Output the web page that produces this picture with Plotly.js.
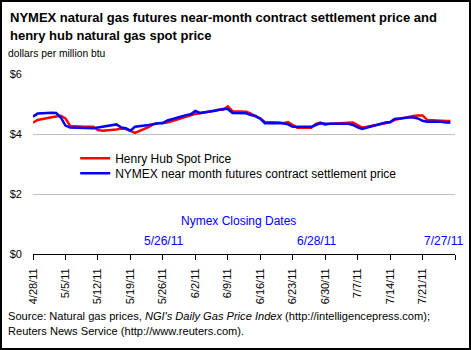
<!DOCTYPE html>
<html>
<head>
<meta charset="utf-8">
<script src="https://cdn.plot.ly/plotly-3.0.1.min.js"></script>
<style>
  html, body { margin: 0; padding: 0; background: #fff; }
  #wrap { position: relative; width: 471px; height: 350px; }
  #chart { width: 471px; height: 350px; }
  #frame { position: absolute; left: 0; top: 0; width: 471px; height: 350px; box-sizing: border-box; border: 2px solid #000; pointer-events: none; }
</style>
</head>
<body>
<div id="wrap"><div id="chart"></div><div id="frame"></div></div>
<script>
// ---- data ----
const dates = [
  '2011-04-28','2011-04-29',
  '2011-05-02','2011-05-03','2011-05-04','2011-05-05','2011-05-06',
  '2011-05-09','2011-05-10','2011-05-11','2011-05-12','2011-05-13',
  '2011-05-16','2011-05-17','2011-05-18','2011-05-19','2011-05-20',
  '2011-05-23','2011-05-24','2011-05-25','2011-05-26','2011-05-27',
  '2011-05-31','2011-06-01','2011-06-02','2011-06-03',
  '2011-06-06','2011-06-07','2011-06-08','2011-06-09','2011-06-10',
  '2011-06-13','2011-06-14','2011-06-15','2011-06-16','2011-06-17',
  '2011-06-20','2011-06-21','2011-06-22','2011-06-23','2011-06-24',
  '2011-06-27','2011-06-28','2011-06-29','2011-06-30','2011-07-01',
  '2011-07-05','2011-07-06','2011-07-07','2011-07-08',
  '2011-07-11','2011-07-12','2011-07-13','2011-07-14','2011-07-15',
  '2011-07-18','2011-07-19','2011-07-20','2011-07-21','2011-07-22',
  '2011-07-25','2011-07-26','2011-07-27'
];
const henryHub = [
  4.38, 4.47,
  4.56, 4.59, 4.61, 4.52, 4.27,
  4.24, 4.24, 4.24, 4.13, 4.11,
  4.15, 4.18, 4.17, 4.10, 4.04,
  4.24, 4.33, 4.36, 4.36, 4.38,
  4.57, 4.63, 4.67, 4.69,
  4.78, 4.81, 4.81, 4.92, 4.76,
  4.74, 4.68, 4.58, 4.52, 4.40,
  4.38, 4.36, 4.40, 4.30, 4.21,
  4.21, 4.34, 4.38, 4.31, 4.34,
  4.38, 4.38, 4.30, 4.21,
  4.30, 4.33, 4.36, 4.39, 4.47,
  4.58, 4.60, 4.62, 4.62, 4.47,
  4.43, 4.43, 4.43
];
const nymex = [
  4.58, 4.68,
  4.71, 4.70, 4.55, 4.28, 4.22,
  4.19, 4.19, 4.19, 4.22, 4.24,
  4.32, 4.22, 4.19, 4.11, 4.24,
  4.30, 4.33, 4.36, 4.36, 4.45,
  4.63, 4.66, 4.77, 4.70,
  4.77, 4.80, 4.83, 4.83, 4.70,
  4.69, 4.63, 4.60, 4.51, 4.36,
  4.36, 4.36, 4.32, 4.24, 4.24,
  4.24, 4.30, 4.36, 4.34, 4.34,
  4.34, 4.30, 4.22, 4.17,
  4.30, 4.36, 4.38, 4.40, 4.50,
  4.55, 4.55, 4.52, 4.44, 4.41,
  4.41, 4.38, 4.38
];
const tickDates = ['2011-04-28','2011-05-05','2011-05-12','2011-05-19','2011-05-26','2011-06-02','2011-06-09',
  '2011-06-16','2011-06-23','2011-06-30','2011-07-07','2011-07-14','2011-07-21','2011-07-28'];
const tickLabels = ['4/28/11','5/5/11','5/12/11','5/19/11','5/26/11','6/2/11','6/9/11',
  '6/16/11','6/23/11','6/30/11','7/7/11','7/14/11','7/21/11',''];
const yTickVals = [0, 2, 4, 6];
const yTickLabels = ['$0', '$2', '$4', '$6'];
const closingDates = ['2011-05-26', '2011-06-28', '2011-07-27'];
const closingLabels = ['5/26/11', '6/28/11', '7/27/11'];
const seriesNames = ['Henry Hub Spot Price', 'NYMEX near month futures contract settlement price'];
const titleLines = ['NYMEX natural gas futures near-month contract settlement price and',
  'henry hub natural gas spot price'];
const unitLabel = 'dollars per million btu';
const sourceLines = ["Source: Natural gas prices, <i>NGI's Daily Gas Price Index</i> (http://intelligencepress.com);",
  'Reuters News Service (http://www.reuters.com).'];

// ---- chart ----
const FONT = 'Liberation Sans, Arial, sans-serif';
const W = 471, H = 350, M = { l: 33, r: 16, t: 74, b: 96 };
const PW = W - M.l - M.r, PH = H - M.t - M.b;
const px2x = (px) => (px - M.l) / PW;
const px2y = (py) => (H - M.b - py) / PH;

const traces = [
  { x: dates, y: henryHub, name: seriesNames[0], type: 'scatter', mode: 'lines',
    line: { color: '#FF0000', width: 2.5 }, legend: 'legend' },
  { x: dates, y: nymex, name: seriesNames[1], type: 'scatter', mode: 'lines',
    line: { color: '#0000FF', width: 2.5 }, legend: 'legend2' }
];

const blueFont = { family: FONT, size: 12, color: '#0000FF' };
const annotations = closingDates.map((d, i) => ({
  x: d, xref: 'x', y: px2y(240.7), yref: 'paper', text: closingLabels[i], showarrow: false,
  xanchor: 'center', yanchor: 'middle', xshift: i === 2 ? -7 : 1, font: blueFont
}));
annotations.push({
  x: px2x(238), xref: 'paper', y: px2y(220.7), yref: 'paper', text: 'Nymex Closing Dates', showarrow: false,
  xanchor: 'center', yanchor: 'middle', font: blueFont
});
titleLines.forEach((t, i) => annotations.push({
  x: px2x(8), xref: 'paper', y: px2y(17.5 + i * 18), yref: 'paper', text: '<b>' + t + '</b>',
  showarrow: false, xanchor: 'left', yanchor: 'middle', font: { family: FONT, size: 13, color: '#000' }
}));
annotations.push({
  x: px2x(6), xref: 'paper', y: px2y(54), yref: 'paper', text: unitLabel,
  showarrow: false, xanchor: 'left', yanchor: 'middle', font: { family: FONT, size: 10.3, color: '#000' }
});
sourceLines.forEach((t, i) => annotations.push({
  x: px2x(6), xref: 'paper', y: px2y(315.5 + i * 15), yref: 'paper', text: t,
  showarrow: false, xanchor: 'left', yanchor: 'middle', font: { family: FONT, size: 11.1, color: '#000' }
}));

const legendCommon = { x: 0.1, xanchor: 'left', yanchor: 'middle', bgcolor: 'rgba(0,0,0,0)',
  font: { family: FONT, size: 12, color: '#000' }, itemwidth: 30 };

const layout = {
  width: W, height: H,
  margin: M,
  paper_bgcolor: '#fff', plot_bgcolor: '#fff',
  font: { family: FONT, color: '#000' },
  showlegend: true,
  legend: Object.assign({ y: 0.532 }, legendCommon),
  legend2: Object.assign({ y: 0.448 }, legendCommon),
  xaxis: {
    type: 'date', range: ['2011-04-28', '2011-07-28'],
    tickmode: 'array', tickvals: tickDates, ticktext: tickLabels, tickangle: -90,
    ticks: 'outside', ticklen: 5, tickcolor: '#000', tickwidth: 1,
    showline: true, linecolor: '#000', linewidth: 1,
    showgrid: false, zeroline: false, ticklabelstandoff: 4,
    tickfont: { family: FONT, size: 11, color: '#000' }
  },
  yaxis: {
    range: [0, 6], tickmode: 'array', tickvals: yTickVals, ticktext: yTickLabels,
    showgrid: true, gridcolor: '#C0C0C0', gridwidth: 1, zeroline: false, showline: false,
    ticks: '', ticklabelstandoff: 10,
    tickfont: { family: FONT, size: 11, color: '#000' }
  },
  annotations: annotations
};

Plotly.newPlot('chart', traces, layout, { displayModeBar: false, staticPlot: true });
</script>
</body>
</html>
